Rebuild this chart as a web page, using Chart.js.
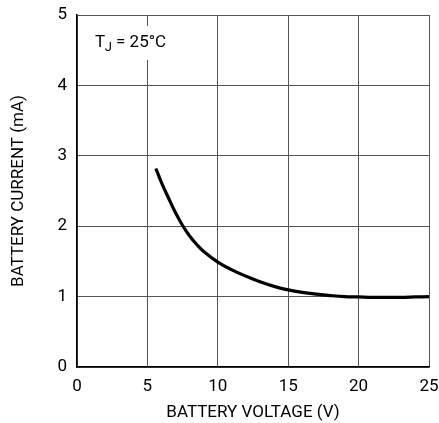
<!DOCTYPE html>
<html>
<head>
<meta charset="utf-8">
<script src="https://cdn.jsdelivr.net/npm/chart.js@4/dist/chart.umd.min.js"></script>
<style>
  body { margin: 0; background: #fff; }
  canvas { display: block; }
</style>
</head>
<body>
<canvas id="chart" width="439" height="423"></canvas>
<script>
// battery current vs battery voltage
const voltage = [5.6, 6, 6.5, 7, 7.5, 8, 8.5, 9, 10, 11, 12, 13, 14, 15, 16, 17, 18, 19, 20, 21, 22, 23, 24, 25];
const current = [2.82, 2.62, 2.4, 2.19, 2.01, 1.86, 1.74, 1.64, 1.49, 1.38, 1.29, 1.21, 1.145, 1.095, 1.06, 1.035, 1.015, 1.0, 0.995, 0.99, 0.99, 0.99, 0.995, 1.0];
const xTicks = [0, 5, 10, 15, 20, 25];
const yTicks = [0, 1, 2, 3, 4, 5];
const noteText = "T";
const noteSub = "J";
const noteRest = " = 25°C";

const FONT = "Roboto, sans-serif";

// T_J label with white box that hides the grid line behind it
const notePlugin = {
  id: "note",
  afterDraw(chart) {
    const ctx = chart.ctx;
    const area = chart.chartArea;
    const x = area.left + 18;
    const y = area.top + 32;
    ctx.save();
    ctx.font = "17px " + FONT;
    const w1 = ctx.measureText(noteText).width;
    ctx.font = "13px " + FONT;
    const w2 = ctx.measureText(noteSub).width;
    ctx.font = "17px " + FONT;
    const w3 = ctx.measureText(noteRest).width;
    ctx.fillStyle = "#fff";
    ctx.fillRect(x - 4, y - 21, w1 + w2 + w3 + 8, 34);
    ctx.fillStyle = "#000";
    ctx.textBaseline = "alphabetic";
    ctx.fillText(noteText, x, y);
    ctx.font = "13px " + FONT;
    ctx.fillText(noteSub, x + w1 - 0.5, y + 4);
    ctx.font = "17px " + FONT;
    ctx.fillText(noteRest, x + w1 + w2 - 0.5, y);
    ctx.restore();
  }
};

const chart = new Chart("chart", {
  type: "scatter",
  data: {
    datasets: [
      {
        data: voltage.map((v, i) => ({ x: v, y: current[i] })),
        showLine: true,
        borderColor: "#000",
        borderWidth: 3.2,
        pointRadius: 0,
        tension: 0.4,
        fill: false,
      },
    ],
  },
  options: {
    responsive: false,
    animation: false,
    layout: { padding: { top: 15, right: 10, left: 0, bottom: 0 } },
    plugins: {
      legend: { display: false },
      tooltip: { enabled: false },
    },
    scales: {
      x: {
        type: "linear",
        min: 0,
        max: 25,
        afterBuildTicks: (scale) => { scale.ticks = xTicks.map((v) => ({ value: v })); },
        afterFit: (scale) => {
          scale.height = 56;
          scale.paddingLeft = 0;
          scale.paddingRight = 0;
        },
        grid: { color: "#555", lineWidth: 1, drawTicks: false },
        border: { color: "#000", width: 1.5 },
        ticks: { color: "#000", font: { family: FONT, size: 17 }, padding: 10 },
        title: {
          display: true,
          text: "BATTERY VOLTAGE (V)",
          color: "#000",
          font: { family: FONT, size: 17 },
          padding: 0,
        },
      },
      y: {
        type: "linear",
        min: 0,
        max: 5,
        afterBuildTicks: (scale) => { scale.ticks = yTicks.map((v) => ({ value: v })); },
        afterFit: (scale) => {
          scale.width = 77;
          scale.paddingTop = 0;
          scale.paddingBottom = 0;
        },
        grid: { color: "#555", lineWidth: 1, drawTicks: false },
        border: { color: "#000", width: 1.5 },
        ticks: { color: "#000", font: { family: FONT, size: 17 }, padding: 10 },
        title: {
          display: true,
          text: "BATTERY CURRENT (mA)",
          color: "#000",
          font: { family: FONT, size: 17 },
          padding: 9,
        },
      },
    },
  },
  plugins: [notePlugin],
});
</script>
</body>
</html>
